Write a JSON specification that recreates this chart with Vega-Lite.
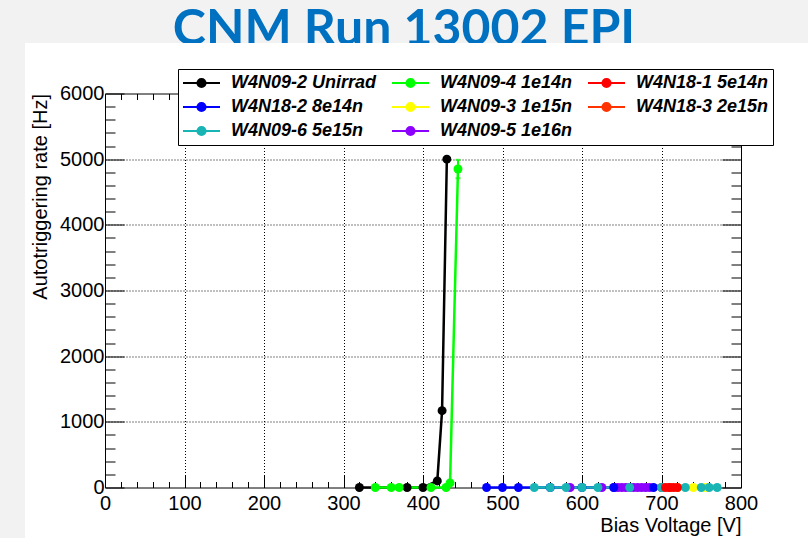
{
  "$schema": "https://vega.github.io/schema/vega-lite/v6.json",
  "background": "white",
  "padding": 0,
  "spacing": 0,
  "bounds": "flush",
  "config": {"view": {"stroke": null}, "font": "Liberation Sans"},
  "vconcat": [
    {
      "width": 808,
      "height": 43,
      "view": {"fill": "#f2f2f2", "stroke": null},
      "data": {"values": [{"t": "CNM Run 13002 EPI"}]},
      "mark": {"type": "text", "font": "Lato", "fontWeight": "bold", "fontSize": 50, "color": "#0070C0", "baseline": "alphabetic", "align": "center", "dy": 23, "clip": true},
      "encoding": {"text": {"field": "t"}}
    },
    {
      "bounds": "flush",
      "spacing": 80,
      "center": true,
      "hconcat": [
        {
          "width": 25,
          "height": 495,
          "view": {"fill": "#f2f2f2", "stroke": null},
          "data": {"values": [{"t": ""}]},
          "mark": {"type": "text"},
          "encoding": {"text": {"field": "t"}}
        },
        {
          "width": 636,
          "height": 394,
          "data": {"values": [
            {"s": "W4N18-3 2e15n", "v": 700, "r": 0},
            {"s": "W4N18-3 2e15n", "v": 710, "r": 0},
            {"s": "W4N18-3 2e15n", "v": 720, "r": 0},
            {"s": "W4N09-3 1e15n", "v": 720, "r": 0},
            {"s": "W4N09-3 1e15n", "v": 740, "r": 0},
            {"s": "W4N09-3 1e15n", "v": 755, "r": 0},
            {"s": "W4N09-5 1e16n", "v": 585, "r": 0},
            {"s": "W4N09-5 1e16n", "v": 625, "r": 0},
            {"s": "W4N09-5 1e16n", "v": 640, "r": 0},
            {"s": "W4N09-5 1e16n", "v": 645, "r": 0},
            {"s": "W4N09-5 1e16n", "v": 650, "r": 0},
            {"s": "W4N09-5 1e16n", "v": 655, "r": 0},
            {"s": "W4N09-5 1e16n", "v": 660, "r": 0},
            {"s": "W4N09-5 1e16n", "v": 665, "r": 0},
            {"s": "W4N09-5 1e16n", "v": 670, "r": 0},
            {"s": "W4N09-5 1e16n", "v": 675, "r": 0},
            {"s": "W4N09-5 1e16n", "v": 680, "r": 0},
            {"s": "W4N09-5 1e16n", "v": 685, "r": 0},
            {"s": "W4N18-2 8e14n", "v": 480, "r": 0},
            {"s": "W4N18-2 8e14n", "v": 500, "r": 0},
            {"s": "W4N18-2 8e14n", "v": 520, "r": 0},
            {"s": "W4N18-2 8e14n", "v": 560, "r": 0},
            {"s": "W4N18-2 8e14n", "v": 600, "r": 0},
            {"s": "W4N18-2 8e14n", "v": 640, "r": 0},
            {"s": "W4N18-2 8e14n", "v": 690, "r": 0},
            {"s": "W4N09-6 5e15n", "v": 540, "r": 0},
            {"s": "W4N09-6 5e15n", "v": 560, "r": 0},
            {"s": "W4N09-6 5e15n", "v": 580, "r": 0},
            {"s": "W4N09-6 5e15n", "v": 600, "r": 0},
            {"s": "W4N09-6 5e15n", "v": 620, "r": 0},
            {"s": "W4N09-6 5e15n", "v": 660, "r": 0},
            {"s": "W4N09-6 5e15n", "v": 700, "r": 0},
            {"s": "W4N09-6 5e15n", "v": 730, "r": 0},
            {"s": "W4N09-6 5e15n", "v": 750, "r": 0},
            {"s": "W4N09-6 5e15n", "v": 760, "r": 0},
            {"s": "W4N09-6 5e15n", "v": 770, "r": 0},
            {"s": "W4N18-1 5e14n", "v": 705, "r": 0},
            {"s": "W4N18-1 5e14n", "v": 710, "r": 0},
            {"s": "W4N18-1 5e14n", "v": 715, "r": 0},
            {"s": "W4N18-1 5e14n", "v": 720, "r": 0},
            {"s": "W4N09-2 Unirrad", "v": 320, "r": 0},
            {"s": "W4N09-2 Unirrad", "v": 380, "r": 0},
            {"s": "W4N09-2 Unirrad", "v": 400, "r": 0},
            {"s": "W4N09-2 Unirrad", "v": 418, "r": 100},
            {"s": "W4N09-2 Unirrad", "v": 424, "r": 1170},
            {"s": "W4N09-2 Unirrad", "v": 430, "r": 5000},
            {"s": "W4N09-4 1e14n", "v": 340, "r": 0},
            {"s": "W4N09-4 1e14n", "v": 360, "r": 0},
            {"s": "W4N09-4 1e14n", "v": 370, "r": 0},
            {"s": "W4N09-4 1e14n", "v": 410, "r": 0},
            {"s": "W4N09-4 1e14n", "v": 429, "r": 0},
            {"s": "W4N09-4 1e14n", "v": 434, "r": 70},
            {"s": "W4N09-4 1e14n", "v": 444, "r": 4850}
          ]},
          "layer": [
            {
              "mark": {"type": "line", "strokeWidth": 2.5},
              "encoding": {
                "x": {
                  "field": "v", "type": "quantitative",
                  "scale": {"domain": [0, 800], "nice": false, "zero": false},
                  "axis": {
                    "orient": "bottom",
                    "values": [0,20,40,60,80,100,120,140,160,180,200,220,240,260,280,300,320,340,360,380,400,420,440,460,480,500,520,540,560,580,600,620,640,660,680,700,720,740,760,780,800],
                    "format": "d",
                    "labelExpr": "datum.value % 100 === 0 ? datum.label : ''",
                    "labelFont": "Liberation Sans", "labelFontSize": 20, "labelColor": "black",
                    "labelPadding": 18, "labelFlush": false, "labelOverlap": false,
                    "tickSize": {"condition": {"test": "datum.value % 100 === 0", "value": -12}, "value": -6},
                    "tickColor": "black", "tickWidth": 1,
                    "domainColor": "black", "domainWidth": 1,
                    "grid": true, "gridColor": "black", "gridDash": [1, 2], "gridWidth": 1,
                    "gridOpacity": {"condition": {"test": "datum.value % 100 === 0 && datum.value > 0 && datum.value < 800", "value": 1}, "value": 0},
                    "title": "Bias Voltage [V]", "titleFont": "Liberation Sans", "titleFontSize": 20, "titleFontWeight": "normal",
                    "titleColor": "black", "titleAnchor": "end", "titlePadding": -4
                  }
                },
                "y": {
                  "field": "r", "type": "quantitative",
                  "scale": {"domain": [0, 6000], "nice": false},
                  "axis": {
                    "orient": "left",
                    "values": [0,200,400,600,800,1000,1200,1400,1600,1800,2000,2200,2400,2600,2800,3000,3200,3400,3600,3800,4000,4200,4400,4600,4800,5000,5200,5400,5600,5800,6000],
                    "format": "d",
                    "labelExpr": "datum.value % 1000 === 0 ? datum.label : ''",
                    "labelFont": "Liberation Sans", "labelFontSize": 20, "labelColor": "black",
                    "labelPadding": 20, "labelFlush": false, "labelOverlap": false,
                    "tickSize": {"condition": {"test": "datum.value % 1000 === 0", "value": -19}, "value": -10},
                    "tickColor": "black", "tickWidth": 1,
                    "domainColor": "black", "domainWidth": 1,
                    "grid": true, "gridColor": "black", "gridDash": [1, 2], "gridWidth": 1,
                    "gridOpacity": {"condition": {"test": "datum.value % 1000 === 0 && datum.value > 0 && datum.value < 6000", "value": 1}, "value": 0},
                    "title": "Autotriggering rate [Hz]", "titleFont": "Liberation Sans", "titleFontSize": 20, "titleFontWeight": "normal",
                    "titleColor": "black", "titleAnchor": "end", "titlePadding": 9
                  }
                },
                "color": {
                  "field": "s", "type": "nominal",
                  "scale": {
                    "domain": ["W4N09-2 Unirrad", "W4N18-2 8e14n", "W4N09-6 5e15n", "W4N09-4 1e14n", "W4N09-3 1e15n", "W4N09-5 1e16n", "W4N18-1 5e14n", "W4N18-3 2e15n"],
                    "range": ["#000000", "#0000ff", "#19b4b4", "#00ff00", "#ffff00", "#8c00ff", "#ff0000", "#ff3300"]
                  },
                  "legend": {
                    "orient": "none", "legendX": 178, "legendY": 69,
                    "columns": 3, "title": null, "zindex": 2,
                    "symbolType": "M-1,0L1,0M-0.22,0A0.22,0.22,0,1,1,0.22,0A0.22,0.22,0,1,1,-0.22,0Z",
                    "symbolSize": 1369, "symbolStrokeWidth": 2, "clipHeight": 20,
                    "labelFont": "Liberation Sans", "labelFontSize": 18, "labelFontWeight": "bold", "labelFontStyle": "italic",
                    "labelColor": "black", "labelOffset": 10, "labelLimit": 0,
                    "strokeColor": "black", "fillColor": "white", "padding": 4,
                    "rowPadding": 4, "columnPadding": 14,
                    "encode": {"symbols": {"update": {
                      "fill": {"scale": "color", "field": "value"},
                      "stroke": {"scale": "color", "field": "value"},
                      "strokeWidth": {"value": 2},
                      "opacity": {"value": 1}
                    }}}
                  }
                }
              }
            },
            {
              "mark": {"type": "point", "filled": true, "size": 80, "opacity": 1},
              "encoding": {
                "x": {
                  "field": "v", "type": "quantitative",
                  "axis": {
                    "orient": "top",
                    "values": [0,20,40,60,80,100,120,140,160,180,200,220,240,260,280,300,320,340,360,380,400,420,440,460,480,500,520,540,560,580,600,620,640,660,680,700,720,740,760,780,800],
                    "labels": false, "grid": false, "title": null,
                    "tickSize": {"condition": {"test": "datum.value % 100 === 0", "value": -12}, "value": -6},
                    "tickColor": "black", "domainColor": "black", "domainWidth": 1
                  }
                },
                "y": {
                  "field": "r", "type": "quantitative",
                  "axis": {
                    "orient": "right",
                    "values": [0,200,400,600,800,1000,1200,1400,1600,1800,2000,2200,2400,2600,2800,3000,3200,3400,3600,3800,4000,4200,4400,4600,4800,5000,5200,5400,5600,5800,6000],
                    "labels": false, "grid": false, "title": null,
                    "tickSize": {"condition": {"test": "datum.value % 1000 === 0", "value": -19}, "value": -10},
                    "tickColor": "black", "domainColor": "black", "domainWidth": 1
                  }
                },
                "color": {"field": "s", "type": "nominal"}
              }
            },
            {
              "data": {"values": [{"v": 444, "lo": 4710, "hi": 4990}]},
              "mark": {"type": "errorbar", "ticks": true, "color": "#00ff00", "thickness": 2},
              "encoding": {
                "x": {"field": "v", "type": "quantitative", "axis": null},
                "y": {"field": "lo", "type": "quantitative", "axis": null},
                "y2": {"field": "hi"}
              }
            }
          ],
          "resolve": {"axis": {"x": "independent", "y": "independent"}}
        }
      ]
    }
  ]
}
